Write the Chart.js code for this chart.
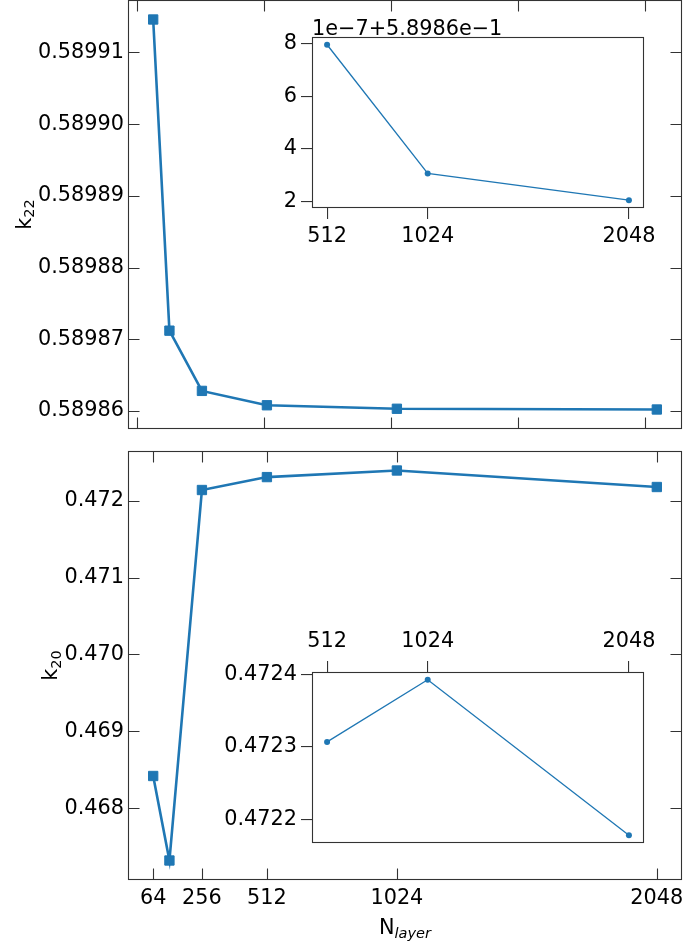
<!DOCTYPE html>
<html>
<head>
<meta charset="utf-8">
<script src="https://cdn.jsdelivr.net/npm/chart.js@4.4.1/dist/chart.umd.min.js"></script>
<style>
  html, body { margin: 0; padding: 0; background: #fff; }
  body { width: 684px; height: 941px; position: relative; overflow: hidden; }
  canvas { position: absolute; }
</style>
</head>
<body>
<canvas id="topMain" width="684" height="440" style="left:0;top:0"></canvas>
<canvas id="botMain" width="684" height="501" style="left:0;top:440px"></canvas>
<canvas id="topInset" width="400" height="260" style="left:260px;top:0"></canvas>
<canvas id="botInset" width="470" height="260" style="left:200px;top:600px"></canvas>
<script>
// data
const nLayer = [64, 128, 256, 512, 1024, 2048];
const k22 = [0.5899146, 0.5898712, 0.5898628, 0.589860796, 0.589860307, 0.589860205];
const k20 = [0.46842, 0.467321, 0.472139, 0.4723069, 0.4723927, 0.472178];

const topXTicks = [0, 500, 1000, 1500, 2000];
const botXTicks = [64, 256, 512, 1024, 2048];
const k22Ticks = [0.58986, 0.58987, 0.58988, 0.58989, 0.58990, 0.58991];
const k20Ticks = [0.468, 0.469, 0.470, 0.471, 0.472];
const insetN = [512, 1024, 2048];
const k22Offset = 0.58986;
const k22InsetTicks = [2, 4, 6, 8];
const k20InsetTicks = [0.4722, 0.4723, 0.4724];

const BLUE = '#1f77b4';
const SPINE = '#333';
const FONT = 'DejaVu Sans';
const FS = 20.8;

Chart.defaults.font.family = FONT;
Chart.defaults.font.size = FS;
Chart.defaults.color = '#000';

function pts(xs, ys) {
  return xs.map((x, i) => ({ x: x, y: ys[i] }));
}
function padRange(arr, f) {
  const lo = Math.min(...arr), hi = Math.max(...arr);
  const m = (hi - lo) * f;
  return [lo - m, hi + m];
}
function setTicks(list) {
  return function (scale) { scale.ticks = list.map(v => ({ value: v })); };
}
// fixed axis size, no extra label overhang padding
function noPad(s) { s.paddingTop = 0; s.paddingBottom = 0; s.paddingLeft = 0; s.paddingRight = 0; }
function fixW(w) { return function (s) { s.width = w; noPad(s); }; }
function fixH(h) { return function (s) { s.height = h; noPad(s); }; }

// frame + inward ticks, titles
const framePlugin = {
  id: 'frame',
  beforeDraw(chart, args, opts) {
    if (!opts.fill) return;
    const a = chart.chartArea, ctx = chart.ctx;
    ctx.save();
    ctx.fillStyle = '#fff';
    ctx.fillRect(a.left, a.top, a.right - a.left, a.bottom - a.top);
    ctx.restore();
  },
  afterDraw(chart, args, opts) {
    const a = chart.chartArea, ctx = chart.ctx;
    ctx.save();
    ctx.strokeStyle = SPINE;
    ctx.lineWidth = 1.1;
    const l = Math.round(a.left) + 0.5, r = Math.round(a.right) - 0.5;
    const t = Math.round(a.top) + 0.5, b = Math.round(a.bottom) - 0.5;
    ctx.strokeRect(l, t, r - l, b - t);
    if (opts.inward) {
      const L = 11;
      const xs = chart.scales.x, ys = chart.scales.y;
      ctx.beginPath();
      xs.ticks.forEach(tk => {
        const px = Math.round(xs.getPixelForValue(tk.value)) + 0.5;
        ctx.moveTo(px, b); ctx.lineTo(px, b - L);
        ctx.moveTo(px, t); ctx.lineTo(px, t + L);
      });
      ys.ticks.forEach(tk => {
        const py = Math.round(ys.getPixelForValue(tk.value)) + 0.5;
        ctx.moveTo(l, py); ctx.lineTo(l + L, py);
        ctx.moveTo(r, py); ctx.lineTo(r - L, py);
      });
      ctx.stroke();
    }
    ctx.fillStyle = '#000';
    if (opts.ytitle) {
      const yt = opts.ytitle;
      const cy = (a.top + a.bottom) / 2;
      ctx.save();
      ctx.translate(yt.x, cy);
      ctx.rotate(-Math.PI / 2);
      ctx.font = FS + 'px ' + FONT;
      const w1 = ctx.measureText(yt.main).width;
      ctx.font = (FS * 0.7) + 'px ' + FONT;
      const w2 = ctx.measureText(yt.sub).width;
      let x0 = -(w1 + w2) / 2;
      ctx.textBaseline = 'alphabetic';
      ctx.font = FS + 'px ' + FONT;
      ctx.fillText(yt.main, x0, 0);
      ctx.font = (FS * 0.7) + 'px ' + FONT;
      ctx.fillText(yt.sub, x0 + w1, 3.5);
      ctx.restore();
    }
    if (opts.xtitle) {
      const xt = opts.xtitle;
      const cx = (a.left + a.right) / 2;
      ctx.font = FS + 'px ' + FONT;
      const w1 = ctx.measureText(xt.main).width;
      ctx.font = 'italic ' + (FS * 0.7) + 'px ' + FONT;
      const w2 = ctx.measureText(xt.sub).width;
      const x0 = cx - (w1 + w2) / 2;
      ctx.textBaseline = 'alphabetic';
      ctx.font = FS + 'px ' + FONT;
      ctx.fillText(xt.main, x0, xt.y);
      ctx.font = 'italic ' + (FS * 0.7) + 'px ' + FONT;
      ctx.fillText(xt.sub, x0 + w1, xt.y + 3.5);
    }
    if (opts.offsetText) {
      ctx.font = FS + 'px ' + FONT;
      ctx.textBaseline = 'alphabetic';
      ctx.fillText(opts.offsetText, a.left, a.top - 2);
    }
    ctx.restore();
  }
};

const mainDataset = (ys) => ({
  data: pts(nLayer, ys),
  borderColor: BLUE,
  borderWidth: 2.6,
  pointStyle: 'rect',
  pointRadius: 6.6,
  pointBorderWidth: 1,
  pointBackgroundColor: BLUE,
  pointBorderColor: BLUE,
  tension: 0,
  fill: false,
  clip: false
});

const insetDataset = (ys) => ({
  data: pts(insetN, ys),
  borderColor: BLUE,
  borderWidth: 1.3,
  pointStyle: 'circle',
  pointRadius: 3,
  pointBorderWidth: 0,
  pointBackgroundColor: BLUE,
  tension: 0,
  fill: false
});

const xRange = padRange(nLayer, 0.05);
const k22Range = padRange(k22, 0.05);
const k20Range = padRange(k20, 0.05);
const insetXRange = padRange(insetN, 0.05);
const k22InsetRange = padRange(k22.slice(3), 0.05);
const k20InsetRange = padRange(k20.slice(3), 0.05);

const common = {
  responsive: false,
  animation: false,
  devicePixelRatio: 1,
  plugins: { legend: { display: false }, tooltip: { enabled: false } }
};

new Chart(document.getElementById('topMain'), {
  type: 'line',
  data: { datasets: [mainDataset(k22)] },
  options: {
    ...common,
    layout: { autoPadding: false, padding: { top: 0, right: 2, bottom: 0, left: 0 } },
    plugins: { ...common.plugins, frame: { inward: true, ytitle: { main: 'k', sub: '22', x: 30.6 } } },
    scales: {
      x: {
        type: 'linear', min: xRange[0], max: xRange[1],
        grid: { display: false, drawTicks: false }, border: { display: false },
        ticks: { display: false },
        afterBuildTicks: setTicks(topXTicks), afterFit: fixH(11)
      },
      y: {
        type: 'linear', min: k22Range[0], max: k22Range[1],
        grid: { display: false, drawTicks: false }, border: { display: false },
        ticks: { padding: 4, callback: v => v.toFixed(5) },
        afterBuildTicks: setTicks(k22Ticks), afterFit: fixW(128)
      }
    }
  },
  plugins: [framePlugin]
});

new Chart(document.getElementById('botMain'), {
  type: 'line',
  data: { datasets: [mainDataset(k20)] },
  options: {
    ...common,
    layout: { autoPadding: false, padding: { top: 11, right: 2, bottom: 0, left: 0 } },
    plugins: { ...common.plugins, frame: { inward: true, ytitle: { main: 'k', sub: '20', x: 57 }, xtitle: { main: 'N', sub: 'layer', y: 494 } } },
    scales: {
      x: {
        type: 'linear', min: xRange[0], max: xRange[1],
        grid: { display: false, drawTicks: false }, border: { display: false },
        ticks: { padding: 6, autoSkip: false, maxRotation: 0, callback: v => String(v) },
        afterBuildTicks: setTicks(botXTicks), afterFit: fixH(61)
      },
      y: {
        type: 'linear', min: k20Range[0], max: k20Range[1],
        grid: { display: false, drawTicks: false }, border: { display: false },
        ticks: { padding: 4, callback: v => v.toFixed(3) },
        afterBuildTicks: setTicks(k20Ticks), afterFit: fixW(128)
      }
    }
  },
  plugins: [framePlugin]
});

const insetGrid = { display: true, drawOnChartArea: false, drawTicks: true, tickLength: 11, color: SPINE, lineWidth: 1.1 };

new Chart(document.getElementById('topInset'), {
  type: 'line',
  data: { datasets: [insetDataset(k22.slice(3))] },
  options: {
    ...common,
    layout: { autoPadding: false, padding: { top: 37, right: 16, bottom: 0, left: 0 } },
    plugins: { ...common.plugins, frame: { fill: true, offsetText: '1e\u22127+5.8986e\u22121' } },
    scales: {
      x: {
        type: 'linear', min: insetXRange[0], max: insetXRange[1],
        grid: insetGrid, border: { display: false },
        ticks: { padding: 5, autoSkip: false, maxRotation: 0, callback: v => String(v) },
        afterBuildTicks: setTicks(insetN), afterFit: fixH(52)
      },
      y: {
        type: 'linear', min: k22InsetRange[0], max: k22InsetRange[1],
        grid: insetGrid, border: { display: false },
        ticks: { padding: 4, callback: v => String(Math.round((v - k22Offset) * 1e7)) },
        afterBuildTicks: setTicks(k22InsetTicks.map(t => k22Offset + t * 1e-7)), afterFit: fixW(52)
      }
    }
  },
  plugins: [framePlugin]
});

new Chart(document.getElementById('botInset'), {
  type: 'line',
  data: { datasets: [insetDataset(k20.slice(3))] },
  options: {
    ...common,
    layout: { autoPadding: false, padding: { top: 0, right: 26, bottom: 17, left: 0 } },
    plugins: { ...common.plugins, frame: { fill: true } },
    scales: {
      x: {
        type: 'linear', position: 'top', min: insetXRange[0], max: insetXRange[1],
        grid: insetGrid, border: { display: false },
        ticks: { padding: 7, autoSkip: false, maxRotation: 0, callback: v => String(v) },
        afterBuildTicks: setTicks(insetN), afterFit: fixH(72)
      },
      y: {
        type: 'linear', min: k20InsetRange[0], max: k20InsetRange[1],
        grid: insetGrid, border: { display: false },
        ticks: { padding: 4, callback: v => v.toFixed(4) },
        afterBuildTicks: setTicks(k20InsetTicks), afterFit: fixW(112)
      }
    }
  },
  plugins: [framePlugin]
});
</script>
</body>
</html>
